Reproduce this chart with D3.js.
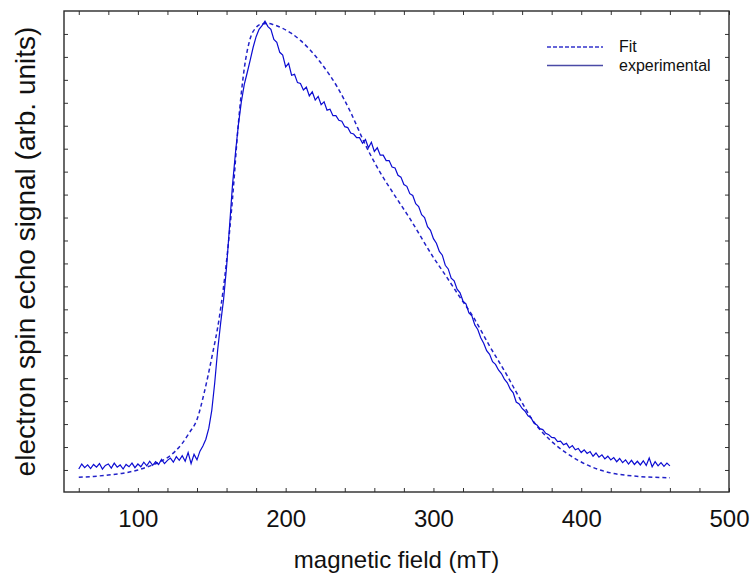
<!DOCTYPE html>
<html>
<head>
<meta charset="utf-8">
<script src="https://cdn.jsdelivr.net/npm/d3@7"></script>
<style>
  body { margin: 0; background: #fff; }
  svg text { font-family: "Liberation Sans", Arial, sans-serif; fill: #111; }
</style>
</head>
<body>
<div id="chart"></div>
<script>
// spin echo field sweep, experimental trace vs fitted curve

// experimental trace, sampled every 2 mT from 60 to 460 mT
var expStart = 60, expStep = 2;
var expSignal = [
  0.002, 0.013, 0.005, 0.011, 0.003, 0.012, 0.006, 0.014, 0.002, 0.010,
  0.013, 0.004, 0.015, 0.006, 0.011, 0.002, 0.012, 0.007, 0.015, 0.005,
  0.013, 0.007, 0.017, 0.009, 0.019, 0.010, 0.018, 0.012, 0.023, 0.014,
  0.021, 0.026, 0.017, 0.029, 0.021, 0.031, 0.019, 0.038, 0.014, 0.034,
  0.022, 0.041, 0.052, 0.067, 0.091, 0.130, 0.190, 0.262, 0.320, 0.372,
  0.442, 0.530, 0.620, 0.690, 0.752, 0.802, 0.840, 0.866, 0.893, 0.921,
  0.944, 0.960, 0.968, 0.978, 0.966, 0.960, 0.938, 0.932, 0.910, 0.904,
  0.878, 0.886, 0.860, 0.862, 0.844, 0.842, 0.828, 0.834, 0.815, 0.824,
  0.806, 0.814, 0.796, 0.802, 0.784, 0.786, 0.772, 0.772, 0.762, 0.760,
  0.748, 0.746, 0.734, 0.732, 0.724, 0.724, 0.712, 0.720, 0.702, 0.714,
  0.694, 0.702, 0.686, 0.686, 0.674, 0.674, 0.660, 0.658, 0.642, 0.638,
  0.622, 0.618, 0.602, 0.598, 0.580, 0.574, 0.556, 0.550, 0.530, 0.522,
  0.504, 0.494, 0.476, 0.468, 0.446, 0.438, 0.418, 0.412, 0.394, 0.386,
  0.368, 0.362, 0.342, 0.336, 0.316, 0.306, 0.288, 0.276, 0.260, 0.252,
  0.236, 0.230, 0.218, 0.210, 0.198, 0.190, 0.176, 0.168, 0.148, 0.144,
  0.134, 0.128, 0.118, 0.114, 0.102, 0.098, 0.090, 0.088, 0.080, 0.077,
  0.071, 0.070, 0.062, 0.063, 0.055, 0.058, 0.048, 0.053, 0.044, 0.047,
  0.038, 0.044, 0.036, 0.040, 0.030, 0.037, 0.028, 0.033, 0.024, 0.030,
  0.022, 0.027, 0.018, 0.025, 0.016, 0.022, 0.013, 0.021, 0.012, 0.019,
  0.011, 0.020, 0.010, 0.026, 0.007, 0.018, 0.009, 0.016, 0.008, 0.015,
  0.009
];

// fitted curve
var fitField = [60, 70, 80, 90, 100, 105, 110, 115, 120, 125, 130, 135, 140, 145, 150, 155, 160, 164, 168, 172, 176, 180, 184, 188,
  192, 198, 204, 210, 216, 225, 235, 244, 254, 264, 273, 284, 300, 309, 318, 327, 338, 350, 358, 367, 379, 390, 404, 417, 435, 460];
var fitSignal = [-0.016, -0.014, -0.011, -0.007, 0.000, 0.005, 0.011, 0.018, 0.027, 0.040, 0.058, 0.082, 0.110, 0.170, 0.245, 0.330, 0.455, 0.590, 0.755, 0.875, 0.940, 0.964, 0.972, 0.973,
  0.970, 0.962, 0.951, 0.936, 0.917, 0.882, 0.834, 0.779, 0.708, 0.648, 0.602, 0.548, 0.463, 0.420, 0.376, 0.333, 0.270, 0.205, 0.158, 0.109, 0.065, 0.037, 0.011, -0.004, -0.013, -0.017];

var xTickValues = [60, 80, 100, 120, 140, 160, 180, 200, 220, 240, 260, 280, 300, 320, 340, 360, 380, 400, 420, 440, 460, 480, 500];
var xLabelled = [100, 200, 300, 400, 500];
var legendLabels = ["Fit", "experimental"];

var expData = expSignal.map(function (v, i) {
    return { field: expStart + i * expStep, signal: v };
});
var fitData = fitField.map(function (f, i) {
    return { field: f, signal: fitSignal[i] };
});

var margin = { top: 11, right: 24, bottom: 91, left: 64 };
var width = 753 - margin.left - margin.right;
var height = 583 - margin.top - margin.bottom;

var xScale = d3.scaleLinear().domain([50, 500]).range([0, width]);
var yScale = d3.scaleLinear().domain([-0.048, 1.0]).range([height, 0]);
var yTicks = d3.range(0, 20).map(function (i) { return i * 0.05; });

var svg = d3.select("#chart").append("svg")
    .attr("width", 753)
    .attr("height", 583)
    .append("g")
    .attr("transform", "translate(" + margin.left + "," + margin.top + ")");

// inward ticks on all four sides
var bottomAxis = svg.append("g")
    .attr("transform", "translate(0," + height + ")")
    .call(d3.axisBottom(xScale)
        .tickValues(xTickValues)
        .tickSizeInner(-4).tickSizeOuter(0)
        .tickPadding(18)
        .tickFormat(function (d) { return xLabelled.indexOf(d) >= 0 ? d : ""; }));
svg.append("g")
    .call(d3.axisTop(xScale).tickValues(xTickValues).tickSizeInner(-4).tickSizeOuter(0).tickFormat(""));
svg.append("g")
    .call(d3.axisLeft(yScale).tickValues(yTicks).tickSizeInner(-4).tickSizeOuter(0).tickFormat(""));
svg.append("g")
    .attr("transform", "translate(" + width + ",0)")
    .call(d3.axisRight(yScale).tickValues(yTicks).tickSizeInner(-4).tickSizeOuter(0).tickFormat(""));

svg.selectAll(".domain").remove();
svg.selectAll(".tick line").attr("stroke", "#333").attr("stroke-width", 1);
bottomAxis.selectAll("text")
    .style("font-size", "24px")
    .attr("fill", "#111");

svg.append("rect")
    .attr("width", width)
    .attr("height", height)
    .attr("fill", "none")
    .attr("stroke", "#2a2a2a")
    .attr("stroke-width", 1.4);

var line = d3.line()
    .x(function (d) { return xScale(d.field); })
    .y(function (d) { return yScale(d.signal); });

svg.append("path")
    .datum(fitData)
    .attr("d", line.curve(d3.curveMonotoneX))
    .attr("fill", "none")
    .attr("stroke", "#2222c8")
    .attr("stroke-width", 1.5)
    .attr("stroke-dasharray", "4,3");

svg.append("path")
    .datum(expData)
    .attr("d", line.curve(d3.curveLinear))
    .attr("fill", "none")
    .attr("stroke", "#0c0cd2")
    .attr("stroke-width", 1.2);

// legend
var legend = svg.append("g").attr("transform", "translate(483,36)");
legendLabels.forEach(function (lab, i) {
    legend.append("line")
        .attr("x1", 0).attr("x2", 56)
        .attr("y1", i * 18.5).attr("y2", i * 18.5)
        .attr("stroke", i === 0 ? "#3333cc" : "#4a4aa6")
        .attr("stroke-width", 1.3)
        .attr("stroke-dasharray", i === 0 ? "4,2" : null);
    legend.append("text")
        .attr("x", 72)
        .attr("y", i * 18.5 + 5)
        .style("font-size", "16px")
        .text(lab);
});

// axis titles
svg.append("text")
    .attr("x", width / 2)
    .attr("y", 557)
    .attr("text-anchor", "middle")
    .style("font-size", "24px")
    .text("magnetic field (mT)");

svg.append("text")
    .attr("transform", "translate(" + (35 - margin.left) + "," + (height / 2) + ") rotate(-90)")
    .attr("text-anchor", "middle")
    .style("font-size", "28px")
    .text("electron spin echo signal (arb. units)");
</script>
</body>
</html>
